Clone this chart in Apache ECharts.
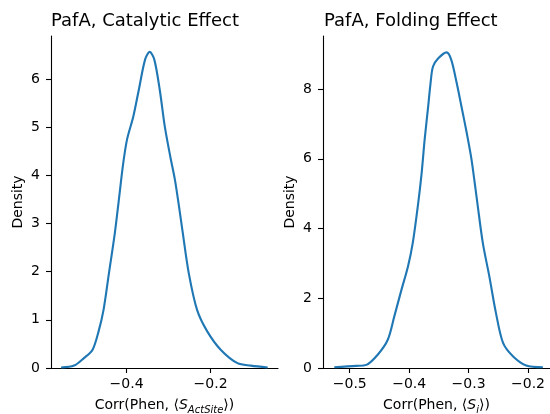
<!DOCTYPE html>
<html>
<head>
<meta charset="utf-8">
<script src="https://cdn.jsdelivr.net/npm/echarts@6/dist/echarts.min.js"></script>
<style>
  html, body { margin: 0; padding: 0; background: #fff; }
  #chart { width: 550px; height: 414px; }
</style>
</head>
<body>
<div id="chart"></div>
<script>
// catalytic effect KDE
const catX = [-0.556, -0.525, -0.501, -0.481, -0.467, -0.455, -0.442, -0.428, -0.419, -0.408,
  -0.399, -0.384, -0.371, -0.356, -0.345, -0.334, -0.321, -0.309, -0.296, -0.285,
  -0.276, -0.267, -0.252, -0.232, -0.208, -0.176, -0.136, -0.104, -0.064]
const catY = [0.01, 0.05, 0.21, 0.38, 0.75, 1.2, 1.97, 2.8, 3.45, 4.25,
  4.74, 5.22, 5.77, 6.4, 6.56, 6.4, 5.77, 5.01, 4.39, 3.91,
  3.4, 2.85, 1.97, 1.2, 0.76, 0.38, 0.1, 0.05, 0.01]
// folding effect KDE, right panel
const foldX = [-0.526, -0.489, -0.472, -0.453, -0.436, -0.425, -0.413, -0.402, -0.394, -0.385,
  -0.379, -0.374, -0.368, -0.364, -0.36, -0.351, -0.337, -0.329, -0.32, -0.312,
  -0.303, -0.295, -0.285, -0.276, -0.265, -0.254, -0.242, -0.225, -0.203, -0.175]
const foldY = [0.02, 0.06, 0.09, 0.38, 0.81, 1.48, 2.24, 2.91, 3.58, 4.7,
  5.59, 6.54, 7.5, 8.17, 8.64, 8.88, 9.05, 8.83, 8.17, 7.5,
  6.73, 5.97, 4.7, 3.58, 2.62, 1.58, 0.72, 0.33, 0.07, 0.02]

const catTicksX = [-0.4, -0.2]
const catTicksY = [0, 1, 2, 3, 4, 5, 6]
const foldTicksX = [-0.5, -0.4, -0.3, -0.2]
const foldTicksY = [0, 2, 4, 6, 8]

const titles = ['PafA, Catalytic Effect', 'PafA, Folding Effect']
const xNames = ['{a|Corr(Phen, ⟨}{i|S}{s|ActSite}{a|⟩)}', '{a|Corr(Phen, ⟨}{i|S}{s|i}{a|⟩)}']

const font = 'DejaVu Sans'
const blue = '#1f77b4'

const pairs = (xs, ys) => xs.map((x, i) => [x, ys[i]])
const fmtX = (v) => (v < 0 ? '\u2212' : '') + Math.abs(v).toFixed(1)

function xAxis(idx, min, max, ticks) {
  return {
    type: 'value', gridIndex: idx, min: min, max: max,
    name: xNames[idx], nameLocation: 'middle', nameGap: 27,
    nameTextStyle: {
      rich: {
        a: { fontSize: 14, fontFamily: font, color: '#000', lineHeight: 20 },
        i: { fontSize: 14, fontFamily: font, fontStyle: 'italic', color: '#000', lineHeight: 20 },
        s: { fontSize: 10, fontFamily: font, fontStyle: 'italic', color: '#000', lineHeight: 20, verticalAlign: 'bottom' },
      },
    },
    axisLine: { show: true, lineStyle: { color: '#000', width: 1.1 } },
    axisTick: { show: true, length: 5, customValues: ticks, lineStyle: { color: '#000', width: 1.1 } },
    axisLabel: { customValues: ticks, formatter: fmtX, margin: 9, fontSize: 14, fontFamily: font, color: '#000' },
    splitLine: { show: false },
  }
}

function yAxis(idx, max, ticks) {
  return {
    type: 'value', gridIndex: idx, min: 0, max: max,
    name: 'Density', nameLocation: 'middle', nameGap: 26,
    nameTextStyle: { fontSize: 14, fontFamily: font, color: '#000' },
    axisLine: { show: true, lineStyle: { color: '#000', width: 1.1 } },
    axisTick: { show: true, length: 5, customValues: ticks, lineStyle: { color: '#000', width: 1.1 } },
    axisLabel: { customValues: ticks, margin: 11, fontSize: 14, fontFamily: font, color: '#000' },
    splitLine: { show: false },
  }
}

const chart = echarts.init(document.getElementById('chart'))
chart.setOption({
  animation: false,
  backgroundColor: '#fff',
  grid: [
    { left: 51, top: 36, width: 227, height: 332, outerBoundsMode: 'none' },
    { left: 323, top: 36, width: 227, height: 332, outerBoundsMode: 'none' },
  ],
  // titles sit flush with the left spine
  graphic: [
    { type: 'text', x: 51, y: 21.7, style: { text: titles[0], font: '18px "DejaVu Sans"', fill: '#000', textAlign: 'left', textVerticalAlign: 'middle' } },
    { type: 'text', x: 324, y: 21.7, style: { text: titles[1], font: '18px "DejaVu Sans"', fill: '#000', textAlign: 'left', textVerticalAlign: 'middle' } },
  ],
  xAxis: [
    xAxis(0, -0.58, -0.0395, catTicksX),
    xAxis(1, -0.545, -0.163, foldTicksX),
  ],
  yAxis: [
    yAxis(0, 6.89, catTicksY),
    yAxis(1, 9.52, foldTicksY),
  ],
  series: [
    {
      type: 'line', xAxisIndex: 0, yAxisIndex: 0, data: pairs(catX, catY),
      smooth: 0.3, showSymbol: false,
      lineStyle: { color: blue, width: 2.1 }, itemStyle: { color: blue },
    },
    {
      type: 'line', xAxisIndex: 1, yAxisIndex: 1, data: pairs(foldX, foldY),
      smooth: 0.3, showSymbol: false,
      lineStyle: { color: blue, width: 2.1 }, itemStyle: { color: blue },
    },
  ],
})
</script>
</body>
</html>
